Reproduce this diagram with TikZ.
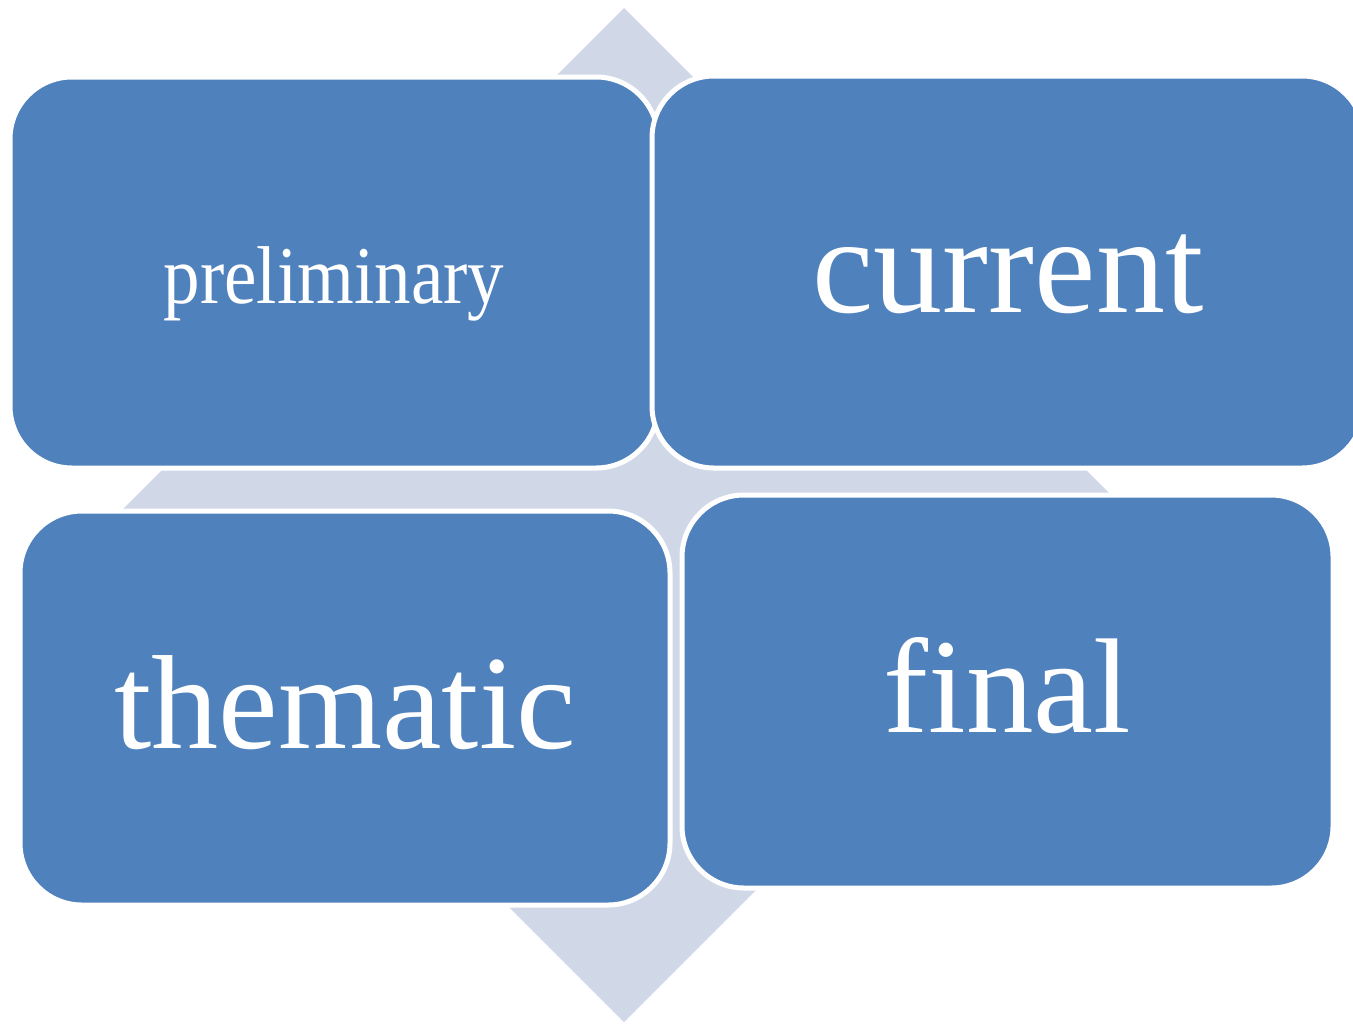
\documentclass[tikz,border=0pt]{standalone}
\usepackage{fontspec}
\setmainfont{Liberation Serif}
\definecolor{boxblue}{RGB}{79,129,189}
\definecolor{backblue}{RGB}{208,216,232}
\tikzstyle{block}=[rectangle,rounded corners=31pt,fill=boxblue,draw=white,line width=2.5pt,text=white,text depth=0pt,inner sep=0pt]

\begin{document}
\begin{tikzpicture}[x=0.5pt,y=-0.5pt]
\useasboundingbox (0,0) rectangle (1353,1023);
\clip (0,0) rectangle (1353,1023);
\fill[backblue] (624,8) -- (1131,515) -- (624,1022) -- (117,515) -- cycle;
\node[block,minimum width=324pt,minimum height=195.5pt,text height=30.5pt] at (334,272.5) (pre) {\fontsize{41}{50}\selectfont\scalebox{0.89}[1]{preliminary}};
\node[block,minimum width=356pt,minimum height=196pt,text height=40.5pt] at (1008,272) (cur) {\fontsize{69}{80}\selectfont current};
\node[block,minimum width=325pt,minimum height=197pt,text height=40pt] at (345,708) (the) {\fontsize{67}{80}\selectfont thematic};
\node[block,minimum width=325.5pt,minimum height=196.5pt,text height=40.5pt] at (1007.5,691.5) (fin) {\fontsize{67.5}{80}\selectfont final};
\end{tikzpicture}
\end{document}
